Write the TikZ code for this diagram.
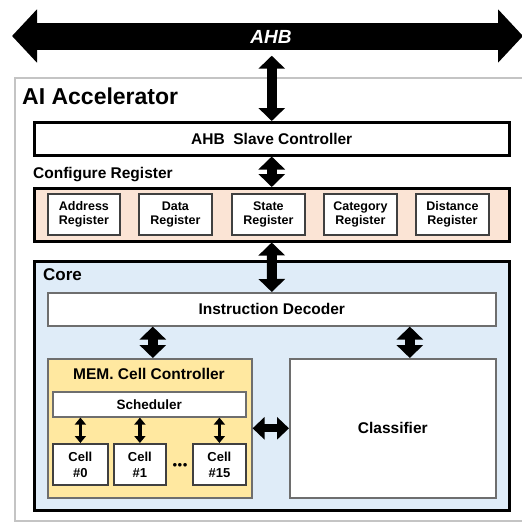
\documentclass[tikz,border=0pt]{standalone}
\usepackage{fontspec}
\setmainfont{Liberation Sans}
\usetikzlibrary{arrows.meta}
\definecolor{peach}{HTML}{FBE4D5}
\definecolor{coreblue}{HTML}{DFECF8}
\definecolor{memyellow}{HTML}{FFE8A0}
\definecolor{outergray}{HTML}{C4C4C4}
\definecolor{boxgray}{HTML}{6E6E6E}
\definecolor{reggray}{HTML}{404040}
\begin{document}
\begin{tikzpicture}[x=1pt,y=-1pt,
  blk/.style={rectangle, inner sep=0pt, anchor=north west, align=center},
  thickbox/.style={blk, draw=black, line width=2.5pt},
  thinbox/.style={blk, draw=boxgray, line width=1.6pt, fill=white},
  regbox/.style={thinbox, draw=reggray, line width=1.8pt},
  lbl/.style={anchor=west, inner sep=0pt},
  fbig/.style={font=\fontsize{15.5}{18}\selectfont\bfseries},
  freg/.style={font=\fontsize{12.5}{14}\selectfont\bfseries},
  fcell/.style={font=\fontsize{13}{16}\selectfont\bfseries},
  dbl/.style={line width=10pt, {Triangle[length=13pt,width=26pt]}-{Triangle[length=13pt,width=26pt]}},
  hdbl/.style={line width=8pt, {Triangle[length=12pt,width=22pt]}-{Triangle[length=12pt,width=22pt]}},
  sml/.style={line width=3.5pt, {Triangle[length=7pt,width=11pt]}-{Triangle[length=7pt,width=11pt]}},
]
\useasboundingbox (0,0) rectangle (522,522);
\clip (0,0) rectangle (522,522);
\fill[white] (0,0) rectangle (522,522);

% outer accelerator box
\node[blk, draw=outergray, line width=1.6pt, minimum width=520pt, minimum height=443pt] (acc) at (14,77) {};
\node[lbl, font=\fontsize{23}{27}\selectfont\bfseries] (acclbl) at (22,96) {AI Accelerator};

% AHB bus
\coordinate (busL) at (12,36);
\coordinate (busR) at (523,36);
\draw[line width=27pt, {Triangle[length=25pt,width=52pt]}-{Triangle[length=25pt,width=52pt]}] (busL) -- (busR);
\node[font=\fontsize{19}{22}\selectfont\bfseries\itshape, text=white, inner sep=0pt] (ahb) at (271,37) {AHB};

% slave controller
\node[thickbox, fill=white, fbig, minimum width=475pt, minimum height=33pt] (slave) at (33,121) {AHB\ \ Slave Controller};

% configure register
\node[lbl, fbig] (cfglbl) at (33,175) {Configure Register};
\node[thickbox, fill=peach, minimum width=475pt, minimum height=53pt] (cfg) at (33,187) {};
\node[regbox, freg, minimum width=72pt, minimum height=41pt] (r1) at (47,193) {Address\\Register};
\node[regbox, freg, minimum width=73pt, minimum height=41pt] (r2) at (138,193) {Data\\Register};
\node[regbox, freg, minimum width=73pt, minimum height=41pt] (r3) at (231,193) {State\\Register};
\node[regbox, freg, minimum width=73pt, minimum height=41pt] (r4) at (323,193) {Category\\Register};
\node[regbox, freg, minimum width=73pt, minimum height=41pt] (r5) at (415,193) {Distance\\Register};

% core
\node[thickbox, fill=coreblue, minimum width=475pt, minimum height=249pt] (core) at (33,260) {};
\node[lbl, font=\fontsize{17}{20}\selectfont\bfseries] (corelbl) at (43,275) {Core};
\node[thinbox, fbig, minimum width=448pt, minimum height=33pt] (dec) at (47,292) {Instruction Decoder};

% memory cell controller
\node[thinbox, fill=memyellow, minimum width=204pt, minimum height=139pt] (mem) at (47,358) {};
\node[fbig, inner sep=0pt] (memlbl) at (149,374) {MEM. Cell Controller};
\node[thinbox, font=\fontsize{13.5}{16}\selectfont\bfseries, minimum width=193pt, minimum height=25pt] (sched) at (52,391) {Scheduler};
\node[regbox, fcell, minimum width=55pt, minimum height=41pt] (c0) at (52,443) {Cell\\\#0};
\node[regbox, fcell, minimum width=52pt, minimum height=41pt] (c1) at (113,443) {Cell\\\#1};
\node[regbox, fcell, minimum width=53pt, minimum height=41pt] (c15) at (192,443) {Cell\\\#15};
\node[font=\fontsize{9}{10}\selectfont, inner sep=0pt] (dots) at (180,465) {$\bullet\!\bullet\!\bullet$};

% classifier
\node[thinbox, fbig, minimum width=206pt, minimum height=139pt] (cls) at (289,358) {Classifier};

% connectors
\draw[dbl] (ahb.south -| slave.north) ++(0,12) -- (slave.north);
\draw[dbl] (slave.south) -- (cfg.north);
\draw[dbl] (cfg.south) -- (dec.north);
\draw[dbl] ([xshift=3pt]mem.north |- dec.south) -- ([xshift=3pt]mem.north);
\draw[dbl] ([xshift=17pt]cls.north |- dec.south) -- ([xshift=17pt]cls.north);
\draw[hdbl] (mem.east) -- (cls.west);
\draw[sml] (c0.north |- sched.south) -- (c0.north);
\draw[sml] (c1.north |- sched.south) -- (c1.north);
\draw[sml] (c15.north |- sched.south) -- (c15.north);
\end{tikzpicture}
\end{document}
